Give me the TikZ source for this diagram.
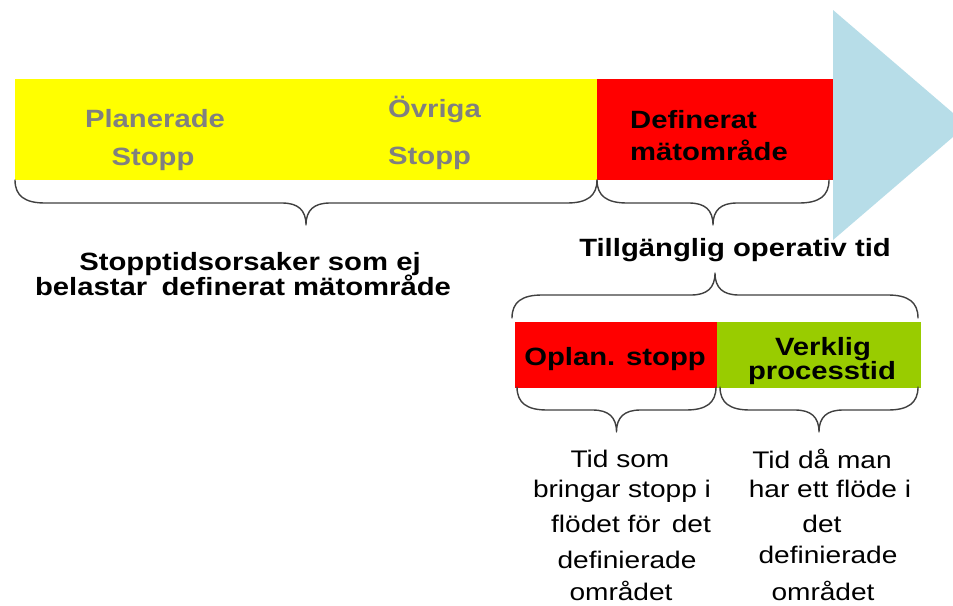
\documentclass[tikz,border=0pt]{standalone}
\usepackage{fontspec}
\setmainfont[FakeStretch=1.17]{Liberation Sans}
\definecolor{barYellow}{RGB}{255,255,0}
\definecolor{barRed}{RGB}{255,0,0}
\definecolor{barGreen}{RGB}{153,204,0}
\definecolor{arrowBlue}{RGB}{183,221,232}
\definecolor{softGray}{RGB}{128,128,128}
\definecolor{braceGray}{RGB}{64,64,64}
\tikzset{
  boldtxt/.style={inner sep=0pt, anchor=base, font=\fontsize{25}{30}\selectfont\bfseries},
  graytxt/.style={boldtxt, text=softGray},
  plaintxt/.style={inner sep=0pt, anchor=base, font=\fontsize{24}{28}\selectfont},
  bracestyle/.style={draw=braceGray, line width=1.4pt, line join=round, line cap=round},
}
% x1, x2, y0, dir (1 = tip downward, -1 = tip upward)
\newcommand\drawBraceShape[4]{%
  \draw[bracestyle] (#1,#3)
    .. controls (#1,{#3+16*(#4)}) and ({#1+10},{#3+23*(#4)}) .. ({#1+30},{#3+23*(#4)})
    -- ({(#1+#2)/2-24},{#3+23*(#4)})
    .. controls ({(#1+#2)/2-8},{#3+23*(#4)}) and ({(#1+#2)/2},{#3+30*(#4)}) .. ({(#1+#2)/2},{#3+45*(#4)})
    .. controls ({(#1+#2)/2},{#3+30*(#4)}) and ({(#1+#2)/2+8},{#3+23*(#4)}) .. ({(#1+#2)/2+24},{#3+23*(#4)})
    -- ({#2-30},{#3+23*(#4)})
    .. controls ({#2-10},{#3+23*(#4)}) and (#2,{#3+16*(#4)}) .. (#2,#3);%
}
\begin{document}
\begin{tikzpicture}[x=1pt, y=-1pt]
  \useasboundingbox (0,0) rectangle (953,605);
  \clip (0,0) rectangle (953,605);
  \fill[white] (0,0) rectangle (953,605);

  % arrow head
  \fill[arrowBlue] (833,10) -- (967,125) -- (833,240) -- cycle;

  % top bar
  \fill[barYellow] (15,79) rectangle (597,180);
  \fill[barRed] (597,79) rectangle (833,180);

  \node[graytxt] (plan1) at (155,127) {Planerade};
  \node[graytxt] (plan2) at (153,165) {Stopp};
  \node[graytxt, anchor=base west] (ovr1) at (388,117) {Övriga};
  \node[graytxt, anchor=base west] (ovr2) at (388,164) {Stopp};
  \node[boldtxt, anchor=base west] (def1) at (630,128) {Definerat};
  \node[boldtxt, anchor=base west] (def2) at (630,160) {mätområde};

  % braces under top bar
  \drawBraceShape{15}{597}{180}{1}
  \drawBraceShape{597}{829}{180}{1}

  \node[boldtxt] (stop1) at (250,270) {Stopptidsorsaker som ej};
  \node[boldtxt] (stop2) at (243,295) {belastar\hspace{0.25em} definerat mätområde};
  \node[boldtxt] (till) at (735,256) {Tillgänglig operativ tid};

  % brace above lower boxes
  \drawBraceShape{512}{918}{318}{-1}

  % lower boxes
  \fill[barRed] (515,322) rectangle (717,388);
  \fill[barGreen] (717,322) rectangle (921,388);
  \node[boldtxt] (opl) at (615,365) {Oplan. stopp};
  \node[boldtxt] (ver1) at (823,355) {Verklig};
  \node[boldtxt] (ver2) at (822,379) {processtid};

  % braces under lower boxes
  \drawBraceShape{517}{716}{387}{1}
  \drawBraceShape{720}{918}{387}{1}

  % explanatory texts
  \node[plaintxt] (l1) at (620,467) {Tid som};
  \node[plaintxt] (l2) at (622,497) {bringar stopp i};
  \node[plaintxt] (l3) at (631,532) {flödet för\hspace{0.15em} det};
  \node[plaintxt] (l4) at (627,568) {definierade};
  \node[plaintxt] (l5) at (621,600) {området};

  \node[plaintxt] (r1) at (822,468) {Tid då man};
  \node[plaintxt] (r2) at (830,497) {har ett flöde i};
  \node[plaintxt] (r3) at (822,532) {det};
  \node[plaintxt] (r4) at (828,563) {definierade};
  \node[plaintxt] (r5) at (823,600) {området};
\end{tikzpicture}
\end{document}
